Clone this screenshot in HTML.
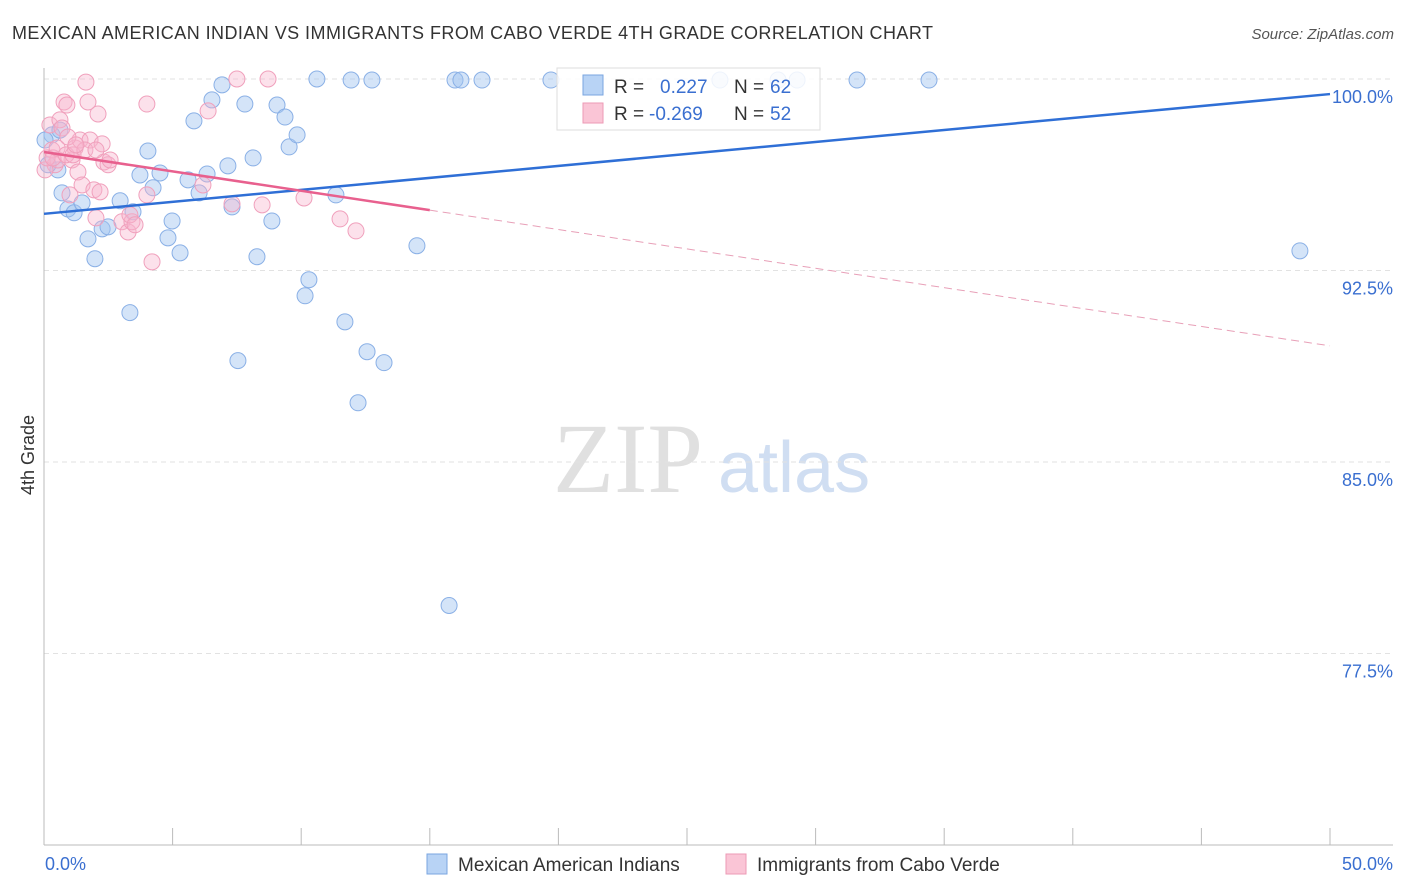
<!DOCTYPE html>
<html><head><meta charset="utf-8"><style>
body{margin:0;background:#fff;font-family:"Liberation Sans",sans-serif;}
svg{display:block}
</style></head><body>
<svg id="chart" width="1406" height="892">
<text x="12" y="39" font-size="18" fill="#333" textLength="921" lengthAdjust="spacing">MEXICAN AMERICAN INDIAN VS IMMIGRANTS FROM CABO VERDE 4TH GRADE CORRELATION CHART</text>
<text x="1394" y="39" font-size="15" fill="#555" font-style="italic" text-anchor="end">Source: ZipAtlas.com</text>
<text transform="translate(34,455) rotate(-90)" font-size="18" fill="#333" text-anchor="middle">4th Grade</text>
<text x="553" y="492" font-size="100" fill="#e0e0e0" font-family="Liberation Serif,serif">ZIP</text>
<text x="718" y="492" font-size="72" fill="#d0def2">atlas</text>
<g id="grid"></g><g id="pts"></g><g id="lines"></g>
<g>
<rect x="557" y="68" width="263" height="62" fill="rgba(255,255,255,0.85)" stroke="#ddd"/>
<rect x="583" y="75" width="20" height="20" fill="#b8d3f5" stroke="#7aa6e0"/>
<rect x="583" y="103" width="20" height="20" fill="#fac5d6" stroke="#ec9ab5"/>
<text x="614" y="93" font-size="19" fill="#333">R =</text><text x="660" y="93" font-size="19" fill="#3a6fd0">0.227</text>
<text x="734" y="93" font-size="19" fill="#333">N =</text><text x="770" y="93" font-size="19" fill="#3a6fd0">62</text>
<text x="614" y="120" font-size="19" fill="#333">R =</text><text x="649" y="120" font-size="19" fill="#3a6fd0">-0.269</text>
<text x="734" y="120" font-size="19" fill="#333">N =</text><text x="770" y="120" font-size="19" fill="#3a6fd0">52</text>
</g>
<g>
<rect x="427" y="854" width="20" height="20" fill="#b8d3f5" stroke="#7aa6e0"/>
<text x="458" y="871" font-size="19" fill="#333">Mexican American Indians</text>
<rect x="726" y="854" width="20" height="20" fill="#fac5d6" stroke="#ec9ab5"/>
<text x="757" y="871" font-size="19" fill="#333">Immigrants from Cabo Verde</text>
</g>
<text x="45" y="870" font-size="18" fill="#3a6fd0">0.0%</text>
<text x="1393" y="870" font-size="18" fill="#3a6fd0" text-anchor="end">50.0%</text>
</svg>
<script>
const yTicks=[100,92.5,85,77.5];
const yTickLabels=["100.0%","92.5%","85.0%","77.5%"];
const blueX=[0.31,0.54,0.70,0.93,1.17,1.48,1.71,1.98,2.26,2.49,2.96,3.34,3.46,3.73,4.04,4.24,4.51,4.82,4.98,5.29,5.60,5.83,6.03,6.34,6.53,6.92,7.15,7.31,7.54,7.81,8.13,8.28,8.86,9.06,9.37,9.53,9.84,10.15,10.30,10.61,11.35,11.70,11.94,12.21,12.56,12.75,13.22,14.50,15.75,15.98,16.21,17.03,19.71,26.28,28.54,29.28,31.61,34.41,48.83,0.62,0.04,0.16];
const blueY=[97.81,96.44,95.54,94.91,94.76,95.15,93.74,92.96,94.13,94.21,95.23,90.85,94.80,96.24,97.18,95.74,96.32,93.78,94.44,93.19,96.05,98.36,95.54,96.28,99.18,99.77,96.60,94.99,88.97,99.02,96.91,93.04,94.44,98.98,98.51,97.34,97.81,91.51,92.14,100,95.46,90.49,99.96,87.32,89.32,99.96,88.89,93.47,79.38,99.96,99.96,99.96,99.96,99.96,99.96,99.96,99.96,99.96,93.27,98.0,97.61,96.64];
const pinkX=[0.23,0.31,0.43,0.54,0.62,0.70,0.78,0.89,1.01,1.09,1.21,1.32,1.40,1.48,1.63,1.71,1.79,1.94,2.02,2.10,2.26,2.33,2.49,3.03,3.27,3.42,4.00,4.00,4.20,6.18,6.38,7.31,7.50,8.48,8.71,10.11,11.51,12.13,0.04,0.12,0.35,0.51,0.86,1.13,1.59,2.18,2.57,3.34,3.54,0.93,1.24,2.02];
const pinkY=[98.20,97.22,96.64,96.83,98.40,98.08,99.10,98.98,95.46,96.83,97.30,96.36,97.61,95.85,99.88,99.10,97.61,95.66,94.56,98.63,97.46,96.75,96.64,94.41,94.01,94.41,99.02,95.46,92.84,95.85,98.75,95.11,100,95.07,100,95.34,94.52,94.05,96.44,96.91,96.91,97.30,97.03,97.03,97.22,95.58,96.83,94.68,94.29,97.73,97.42,97.22];
const blueTrend=[94.72,99.41];
const pinkTrend=[97.14,89.55];
const pinkSolidEnd=15;
const X=v=>44+v/50*1286, Y=v=>79+(100-v)/30*766;
const NS="http://www.w3.org/2000/svg";
function mk(t,a,p){const e=document.createElementNS(NS,t);for(const k in a)e.setAttribute(k,a[k]);p.appendChild(e);return e;}
const grid=document.getElementById('grid');
yTicks.forEach((t,i)=>{
 const l=mk('line',{x1:44,x2:1393,y1:Y(t),y2:Y(t),stroke:'#e2e2e2','stroke-dasharray':'5,4'},grid);
 
 
 const tx=mk('text',{x:1393,y:Y(t)+24,'font-size':18,fill:'#3a6fd0','text-anchor':'end'},grid);
 tx.textContent=yTickLabels[i];
 
 
});
const ax=mk('line',{x1:44,x2:44,y1:68,y2:845,stroke:'#bbb'},grid);


const bx=mk('line',{x1:44,x2:1393,y1:845,y2:845,stroke:'#bbb'},grid);


for(let v=0;v<=50;v+=5){const t=mk('line',{x1:X(v),x2:X(v),y1:828,y2:845,stroke:'#bbb'},grid);
 
 }
const pts=document.getElementById('pts');
blueX.forEach((x,i)=>{const c=mk('circle',{cx:X(x),cy:Y(blueY[i]),r:8,fill:'rgba(160,196,240,0.45)',stroke:'#8ab0e6','stroke-width':1},pts);
 
 });
pinkX.forEach((x,i)=>{const c=mk('circle',{cx:X(x),cy:Y(pinkY[i]),r:8,fill:'rgba(248,180,204,0.4)',stroke:'#f0a0bc','stroke-width':1},pts);
 
 });
const lines=document.getElementById('lines');
const bl=mk('line',{x1:X(0),y1:Y(blueTrend[0]),x2:X(50),y2:Y(blueTrend[1]),stroke:'#2f6fd6','stroke-width':2.5},lines);


const pAt=v=>pinkTrend[0]+(pinkTrend[1]-pinkTrend[0])*v/50;
const ps=mk('line',{x1:X(0),y1:Y(pAt(0)),x2:X(pinkSolidEnd),y2:Y(pAt(pinkSolidEnd)),stroke:'#e8608e','stroke-width':2.5},lines);


const pd=mk('line',{x1:X(pinkSolidEnd),y1:Y(pAt(pinkSolidEnd)),x2:X(50),y2:Y(pAt(50)),stroke:'#e8a0b8','stroke-width':1,'stroke-dasharray':'8,5'},lines);


</script>
</body></html>
